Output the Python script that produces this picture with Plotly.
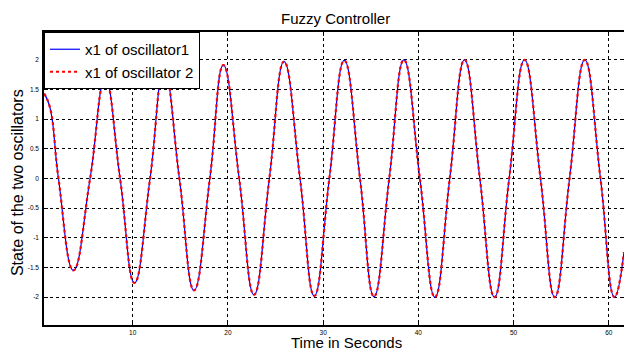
import plotly.graph_objects as go

# Values: extrema and zero crossings of the response
t_vals = [0.7, 1.3, 2.2, 3.77, 5.52, 7.1, 8.67, 10.18, 11.82, 13.29, 14.9, 16.44, 18.1,
          19.52, 21.18, 22.74, 24.35, 25.89, 27.57, 29.07, 30.65, 32.22, 33.87, 35.34,
          36.94, 38.48, 40.16, 41.74, 43.3, 44.85, 46.46, 48.0, 49.54, 51.15, 52.83,
          54.33, 55.88, 57.48, 59.13, 60.6, 61.6]
x1_osc1 = [1.43, 1.2, 0.0, -1.55, 0.0, 1.68, 0.0, -1.76, 0.0, 1.85, 0.0, -1.885, 0.0,
           1.91, 0.0, -1.96, 0.0, 1.97, 0.0, -1.98, 0.0, 1.99, 0.0, -1.99,
           0.0, 2.0, 0.0, -2.0, 0.0, 2.0, 0.0, -2.0, 0.0, 2.0, 0.0,
           -2.0, 0.0, 2.0, 0.0, -2.0, -1.24]
x1_osc2 = list(x1_osc1)

x_ticks = [10, 20, 30, 40, 50, 60]
y_ticks = [-2, -1.5, -1, -0.5, 0, 0.5, 1, 1.5, 2]
y_tick_text = ["-2", "-1.5", "-1", "-0.5", "0", "0.5", "1", "1.5", "2"]

FONT = "Liberation Sans, Arial, sans-serif"

fig = go.Figure()
fig.add_trace(go.Scatter(x=t_vals, y=x1_osc1, mode="lines", name="x1 of oscillator1",
                         line=dict(color="#0000ff", width=1.2, shape="spline", smoothing=1.3)))
fig.add_trace(go.Scatter(x=t_vals, y=x1_osc2, mode="lines", name="x1 of oscillator 2",
                         line=dict(color="#ff0000", width=2.2, dash="dot", shape="spline", smoothing=1.3)))

grid = dict(showgrid=True, gridcolor="black", gridwidth=1, griddash="3px,3px")

fig.update_layout(
    width=624, height=350,
    margin=dict(l=44, r=0, t=32, b=25, autoexpand=False),
    paper_bgcolor="white", plot_bgcolor="white",
    font=dict(family=FONT, color="black"),
    showlegend=True,
    legend=dict(x=0, y=1, xanchor="left", yanchor="top", bgcolor="white",
                bordercolor="black", borderwidth=1, font=dict(size=15),
                tracegroupgap=0, itemwidth=30),
    xaxis=dict(range=[0.68, 61.6], tickvals=x_ticks, ticks="inside", ticklen=4,
               tickcolor="black", showline=True, linecolor="black", linewidth=1.5,
               mirror="ticks", zeroline=False, tickfont=dict(size=6.5),
               automargin=False, ticklabelstandoff=0, **grid),
    yaxis=dict(range=[-2.47, 2.47], tickvals=y_ticks, ticktext=y_tick_text, ticks="inside",
               ticklen=4, tickcolor="black", showline=True, linecolor="black", linewidth=1.5,
               mirror="ticks", zeroline=False, tickfont=dict(size=6.5),
               automargin=False, ticklabelstandoff=2, **grid),
    annotations=[
        dict(text="Fuzzy Controller", xref="paper", yref="paper", x=0.503, y=1.046,
             xanchor="center", yanchor="middle", showarrow=False, font=dict(size=15)),
        dict(text="Time in Seconds", xref="paper", yref="paper", x=0.5216, y=-0.0605,
             xanchor="center", yanchor="middle", showarrow=False, font=dict(size=15)),
        dict(text="State of the two oscillators", xref="paper", yref="paper", x=-0.0457, y=0.486,
             xanchor="center", yanchor="middle", textangle=-90, showarrow=False,
             font=dict(size=16)),
    ],
)

fig.write_html("out.html", config={"displayModeBar": False},
               post_script="document.body.style.margin='0px';document.body.style.overflow='hidden';")
